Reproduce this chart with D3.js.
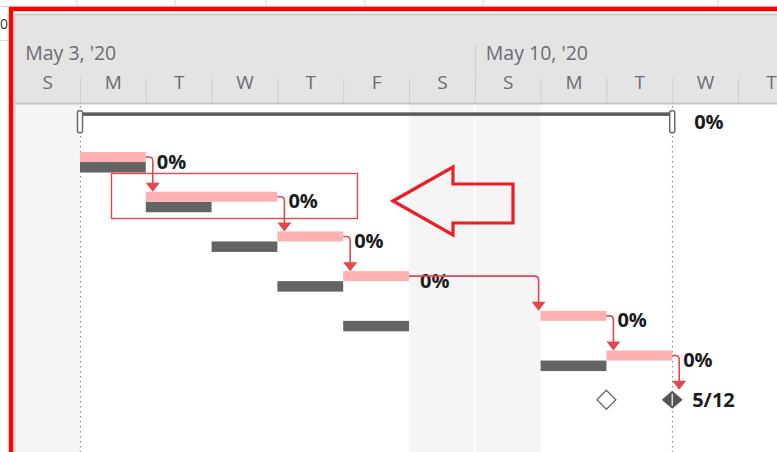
<!DOCTYPE html>
<html>
<head>
<meta charset="utf-8">
<script src="https://cdn.jsdelivr.net/npm/d3@7"></script>
<style>
  body { margin: 0; background: #fff; overflow: hidden; }
  svg { display: block; }
  text { font-family: "Segoe UI", "Open Sans", sans-serif; }
</style>
</head>
<body>
<svg id="chart" width="777" height="452"></svg>
<script>
// rows of the gantt, top to bottom
const rows = ["Project", "Task 1", "Task 2", "Task 3", "Task 4", "Task 5", "Task 6", "Finish"];
const rowKind = ["summary", "task", "task", "task", "task", "task", "task", "milestone"];
const startDates = ["2020-05-04", "2020-05-04", "2020-05-05", "2020-05-07", "2020-05-08", "2020-05-11", "2020-05-12", "2020-05-13"];
const finishDates = ["2020-05-13", "2020-05-05", "2020-05-07", "2020-05-08", "2020-05-09", "2020-05-12", "2020-05-13", "2020-05-13"];
const baselineStarts = [null, "2020-05-04", "2020-05-05", "2020-05-06", "2020-05-07", "2020-05-08", "2020-05-11", "2020-05-12"];
const baselineFinishes = [null, "2020-05-05", "2020-05-06", "2020-05-07", "2020-05-08", "2020-05-09", "2020-05-12", "2020-05-12"];
const barLabels = ["0%", "0%", "0%", "0%", "0%", "0%", "0%", "5/12"];
const links = [[1, 2], [2, 3], [3, 4], [4, 5], [5, 6], [6, 7]];

// timescale header
const weekStarts = ["2020-05-03", "2020-05-10"];
const weekLabels = ["May 3, '20", "May 10, '20"];
const dayLetters = ["S", "M", "T", "W", "T", "F", "S", "S", "M", "T", "W", "T"];
const nonWorkingDays = ["2020-05-03", "2020-05-09", "2020-05-10"];

const parse = d3.timeParse("%Y-%m-%d");
const svg = d3.select("#chart");
const W = 777, H = 452;

const frameLeft = 14, headerTop = 14, headerBottom = 104;
const labelSize = 20;

let x = d3.scaleTime()
  .domain([parse("2020-05-03"), parse("2020-05-15")])
  .range([14.2, 14.2 + 12 * 65.8]);
let y = d3.scaleBand()
  .domain(rows)
  .range([102, 102 + rows.length * 39.7]);
let cy = (i) => y(rows[i]) + y.bandwidth() / 2;

// --- table strip above the frame
svg.append("rect").attr("width", W).attr("height", H).attr("fill", "#fff");
[77, 175, 266, 365, 483, 718].forEach(sx => {
  svg.append("line").attr("x1", sx).attr("x2", sx).attr("y1", 0).attr("y2", 7)
    .attr("stroke", "#d9d9d9");
});
svg.append("line").attr("x1", 0).attr("x2", W).attr("y1", 6.5).attr("y2", 6.5).attr("stroke", "#d4d4d4");
svg.append("line").attr("x1", 0).attr("x2", 9).attr("y1", 40.5).attr("y2", 40.5).attr("stroke", "#d9d9d9");
svg.append("text").attr("x", 0).attr("y", 29).attr("font-size", 14).attr("fill", "#333").text("0");

// --- body
let body = svg.append("g");
body.append("rect").attr("x", frameLeft).attr("y", headerBottom)
  .attr("width", W - frameLeft).attr("height", H - headerBottom).attr("fill", "#fff");
body.selectAll("rect.nonwork").data(nonWorkingDays).enter().append("rect")
  .classed("nonwork", true)
  .attr("x", d => x(parse(d)))
  .attr("width", d => x(d3.timeDay.offset(parse(d), 1)) - x(parse(d)))
  .attr("y", headerBottom).attr("height", H - headerBottom)
  .attr("fill", "#f5f5f5");
body.selectAll("line.weeksep").data(weekStarts.slice(1)).enter().append("line")
  .classed("weeksep", true)
  .attr("x1", d => x(parse(d))).attr("x2", d => x(parse(d)))
  .attr("y1", headerBottom).attr("y2", H)
  .attr("stroke", "#fff").attr("stroke-width", 1.5);

// dotted project start / finish lines
[startDates[0], finishDates[0]].forEach(d => {
  let px = Math.round(x(parse(d))) + 0.5;
  body.append("line").attr("x1", px).attr("x2", px)
    .attr("y1", headerBottom + 2).attr("y2", H)
    .attr("stroke", "#8a8a8a").attr("stroke-width", 1.2)
    .attr("stroke-dasharray", "1.5,3.5");
});

// --- header
let header = svg.append("g");
header.append("rect").attr("x", frameLeft).attr("y", headerTop)
  .attr("width", W - frameLeft).attr("height", headerBottom - headerTop)
  .attr("fill", "#e4e4e4");
header.append("line").attr("x1", frameLeft).attr("x2", W).attr("y1", headerTop + 0.5).attr("y2", headerTop + 0.5)
  .attr("stroke", "#c8c8c8").attr("stroke-width", 2);
header.append("line").attr("x1", frameLeft + 0.5).attr("x2", frameLeft + 0.5).attr("y1", headerTop).attr("y2", H)
  .attr("stroke", "#d0d0d0").attr("stroke-width", 2);
header.append("line").attr("x1", frameLeft).attr("x2", W).attr("y1", headerBottom - 0.5).attr("y2", headerBottom - 0.5)
  .attr("stroke", "#c6c6c6").attr("stroke-width", 2);

// week tier
header.selectAll("line.wk").data(weekStarts.slice(1)).enter().append("line")
  .classed("wk", true)
  .attr("x1", d => Math.round(x(parse(d))) + 0.5).attr("x2", d => Math.round(x(parse(d))) + 0.5)
  .attr("y1", 44).attr("y2", headerBottom - 1)
  .attr("stroke", "#cdcdcd");
header.selectAll("text.wk").data(weekStarts).enter().append("text")
  .classed("wk", true)
  .attr("x", d => x(parse(d)) + 11)
  .attr("y", 60)
  .attr("font-size", 19.5)
  .attr("fill", "#6e6a72")
  .text((d, i) => weekLabels[i]);

// day tier via an axis: grid ticks at midnight, letters centred at noon
let days = d3.timeDay.range(x.domain()[0], x.domain()[1]);
let dayGrid = d3.axisBottom(x).tickValues(days.slice(1)).tickSize(25).tickFormat("");
let gGrid = header.append("g").attr("transform", `translate(0, 78)`).call(dayGrid);
gGrid.select(".domain").remove();
gGrid.selectAll("line").attr("stroke", "#cdcdcd");

let dayAxis = d3.axisBottom(x)
  .tickValues(days.map(d => d3.timeHour.offset(d, 12)))
  .tickSize(0)
  .tickFormat((d, i) => dayLetters[i]);
let gDays = header.append("g").attr("transform", `translate(0, 72)`).call(dayAxis);
gDays.select(".domain").remove();
gDays.selectAll("text")
  .attr("font-size", 19)
  .attr("font-family", "'Segoe UI', 'Open Sans', sans-serif")
  .attr("fill", "#6e6a72");

// --- bars
let marks = svg.append("g");
let pink = "#ffb1b1", base = "#646464", linkColor = "#e4464b";

rows.forEach((r, i) => {
  let c = cy(i);
  let s = x(parse(startDates[i])), f = x(parse(finishDates[i]));
  if (rowKind[i] === "summary") {
    marks.append("rect").attr("x", s).attr("y", c - 9.5).attr("width", f - s).attr("height", 3.5)
      .attr("fill", "#5a5a5a");
    [s, f].forEach(px => {
      marks.append("rect").attr("x", px - 2.5).attr("y", c - 11).attr("width", 5).attr("height", 22)
        .attr("rx", 2).attr("fill", "#fff").attr("stroke", "#6a6a6a").attr("stroke-width", 1.5);
    });
    marks.append("text").attr("x", f + 22).attr("y", c + 7)
      .attr("font-size", labelSize).attr("font-weight", "bold").attr("fill", "#1c1c1c").text(barLabels[i]);
  } else if (rowKind[i] === "task") {
    let bs = x(parse(baselineStarts[i])), bf = x(parse(baselineFinishes[i]));
    marks.append("rect").attr("x", bs).attr("y", c + 0.5).attr("width", bf - bs).attr("height", 10.5)
      .attr("fill", base);
    marks.append("rect").attr("x", s).attr("y", c - 9.5).attr("width", f - s).attr("height", 10)
      .attr("fill", pink);
    marks.append("text").attr("x", f + 11).attr("y", c + 7)
      .attr("font-size", labelSize).attr("font-weight", "bold").attr("fill", "#1c1c1c").text(barLabels[i]);
  } else {
    let bs = x(parse(baselineStarts[i]));
    let diamond = (px, hw, hh) => `M${px},${c - hh}L${px + hw},${c}L${px},${c + hh}L${px - hw},${c}Z`;
    marks.append("path").attr("d", diamond(bs, 9.5, 9.5))
      .attr("fill", "#fff").attr("stroke", "#6a6a6a").attr("stroke-width", 1.3);
    marks.append("path").attr("d", diamond(s, 10.5, 9))
      .attr("fill", "#555");
    marks.append("line").attr("x1", s).attr("x2", s).attr("y1", c - 6).attr("y2", c + 6)
      .attr("stroke", "#fff").attr("stroke-width", 1.2);
    marks.append("text").attr("x", s + 20).attr("y", c + 7)
      .attr("font-size", labelSize).attr("font-weight", "bold").attr("fill", "#1c1c1c").text(barLabels[i]);
  }
});

// finish-to-start links
links.forEach(([a, b]) => {
  let ya = cy(a) - 4.5;
  let fa = x(parse(finishDates[a]));
  let sb = x(parse(startDates[b]));
  let ax = Math.max(sb - 2, fa + 7);
  let tipY = rowKind[b] === "milestone" ? cy(b) - 10 : cy(b) - 9.5;
  let r = 4;
  marks.append("path")
    .attr("d", `M${fa},${ya}H${ax - r}Q${ax},${ya} ${ax},${ya + r}V${tipY - 6}`)
    .attr("fill", "none").attr("stroke", linkColor).attr("stroke-width", 1.6);
  marks.append("path")
    .attr("d", `M${ax - 7},${tipY - 9}L${ax + 7},${tipY - 9}L${ax},${tipY}Z`)
    .attr("fill", linkColor);
});

// --- annotations
svg.append("rect").attr("x", 111.5).attr("y", 173.5).attr("width", 246).attr("height", 45)
  .attr("fill", "none").attr("stroke", "#e8474c").attr("stroke-width", 1.4);
svg.append("path")
  .attr("d", "M393,201L453,167L453,184L513,184L513,223L453,223L453,235Z")
  .attr("fill", "none").attr("stroke", "#ee1c24").attr("stroke-width", 3.2)
  .attr("stroke-linejoin", "miter");

// red frame
svg.append("rect").attr("x", 11).attr("y", 9).attr("width", W + 20).attr("height", H + 20)
  .attr("fill", "none").attr("stroke", "#ff0000").attr("stroke-width", 4.4);
</script>
</body>
</html>
